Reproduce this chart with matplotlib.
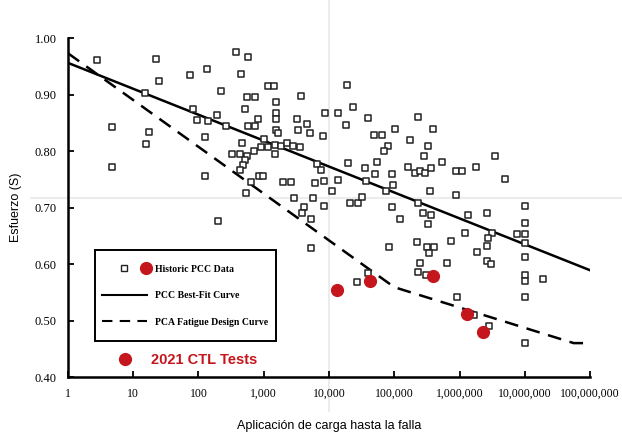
import numpy as np
import matplotlib
matplotlib.use("Agg")
import matplotlib.pyplot as plt
from matplotlib.lines import Line2D
from matplotlib.patches import Rectangle
from matplotlib.legend_handler import HandlerTuple

# historic PCC data, log10(load applications) and stress ratio
hist_log_n = [0.44, 1.35, 1.39, 1.87, 1.18, 1.92, 1.98, 0.67, 1.24, 1.20, 0.67, 2.10, 2.10, 2.30,
              2.57, 2.76, 2.13, 2.65, 3.07, 3.16, 3.57, 2.34, 2.74, 2.87, 3.19, 2.71, 3.19, 3.94,
              3.19, 2.91, 3.51, 2.28, 2.15, 2.42, 2.76, 2.87,
              3.19, 3.22, 3.52, 3.66, 3.71, 3.91, 2.67, 3.00, 3.07, 2.96, 2.85, 3.17, 3.17, 3.26,
              3.36, 3.45, 3.56,
              2.51, 2.64, 2.74, 2.71, 2.68, 2.64, 3.82, 3.88, 2.93, 2.99, 2.80, 3.30, 3.42, 3.79,
              3.92, 4.14, 2.73, 3.46, 3.75, 3.92, 3.62, 3.59, 3.72,
              4.28, 4.14, 4.37, 4.26, 4.60, 4.69, 4.81, 5.01, 5.36, 5.59, 5.24, 5.52, 4.90, 4.84,
              5.46, 5.73, 4.29, 4.74, 4.55, 4.70, 4.97, 5.21, 5.32, 5.39, 5.47, 5.56, 4.57, 4.98,
              4.87, 4.05, 5.55, 5.95, 4.32, 4.44, 4.51, 4.97, 5.36,
              5.95, 6.04, 6.25, 6.54, 6.70, 7.00,
              5.09, 5.44, 5.56, 5.52, 4.92, 5.35, 5.50, 5.61, 5.53, 5.87, 5.81, 5.39, 5.36, 5.49,
              4.60, 4.43, 5.96, 3.72,
              6.13, 6.42, 6.08, 6.50, 6.44, 6.88, 7.00, 7.00, 6.42, 6.27, 6.42, 6.48, 7.00, 7.00,
              7.00, 7.00, 7.28, 7.00, 6.22, 6.45, 7.00]
hist_s = [0.961, 0.963, 0.924, 0.935, 0.903, 0.874, 0.855, 0.842, 0.834, 0.812, 0.772, 0.825, 0.756, 0.676,
          0.975, 0.966, 0.945, 0.936, 0.915, 0.915, 0.897, 0.906, 0.896, 0.896, 0.887, 0.874, 0.867, 0.867,
          0.857, 0.857, 0.857, 0.864, 0.853, 0.844, 0.844, 0.844,
          0.837, 0.832, 0.837, 0.848, 0.832, 0.827, 0.814, 0.821, 0.807, 0.807, 0.800, 0.811, 0.795, 0.809,
          0.814, 0.809, 0.807,
          0.795, 0.795, 0.791, 0.784, 0.775, 0.766, 0.777, 0.766, 0.756, 0.756, 0.745, 0.745, 0.745, 0.743,
          0.747, 0.749, 0.726, 0.717, 0.717, 0.703, 0.701, 0.690, 0.680,
          0.917, 0.867, 0.878, 0.846, 0.858, 0.828, 0.828, 0.839, 0.860, 0.839, 0.819, 0.809, 0.809, 0.800,
          0.791, 0.781, 0.779, 0.781, 0.770, 0.759, 0.759, 0.772, 0.761, 0.765, 0.761, 0.770, 0.747, 0.740,
          0.729, 0.729, 0.729, 0.722, 0.708, 0.708, 0.719, 0.701, 0.708,
          0.765, 0.765, 0.772, 0.791, 0.750, 0.703,
          0.680, 0.690, 0.687, 0.671, 0.630, 0.639, 0.630, 0.630, 0.619, 0.641, 0.602, 0.602, 0.586, 0.581,
          0.584, 0.568, 0.542, 0.628,
          0.687, 0.690, 0.655, 0.655, 0.646, 0.653, 0.653, 0.637, 0.632, 0.621, 0.605, 0.600, 0.612, 0.673,
          0.581, 0.570, 0.573, 0.542, 0.510, 0.490, 0.460]

# 2021 CTL tests
ctl_log_n = [4.12, 4.63, 5.59, 6.11, 6.36]
ctl_s = [0.554, 0.570, 0.579, 0.511, 0.480]

# curves
fit_log_n = [0, 8]
fit_s = [0.956, 0.589]
pca_log_n = [0, 5.0, 7.75, 8.0]
pca_s = [0.973, 0.559, 0.460, 0.460]

xticks = [1, 10, 100, 1000, 10000, 100000, 1000000, 10000000, 100000000]
xticklabels = ["1", "10", "100", "1,000", "10,000", "100,000", "1,000,000", "10,000,000", "100,000,000"]
yticks = [0.40, 0.50, 0.60, 0.70, 0.80, 0.90, 1.00]

red = "#c4161c"
serif = "Liberation Serif"

fig = plt.figure(figsize=(6.22, 4.33), dpi=100)
ax = fig.add_axes([0.1093, 0.1293, 0.8393, 0.7829])

# faint scan lines
ax.axhline(0.716, xmin=-0.07, xmax=1.06, color="#ececec", lw=1.5, zorder=0, clip_on=False)
ax.axvline(1e4, ymin=-0.1, ymax=1.12, color="#ececec", lw=1.5, zorder=0, clip_on=False)

ax.plot(10 ** np.array(fit_log_n), fit_s, color="black", lw=1.8, zorder=2)
ax.plot(10 ** np.array(pca_log_n), pca_s, color="black", lw=1.8, dashes=(5.5, 3.5), zorder=2)

ax.scatter(10 ** np.array(hist_log_n), hist_s, marker="s", s=22, facecolor="white",
           edgecolor="#222222", linewidth=1.1, zorder=3, clip_on=False)
ax.scatter(10 ** np.array(ctl_log_n), ctl_s, marker="o", s=72, color=red, zorder=4)

ax.set_xscale("log")
ax.set_xlim(1, 1e8)
ax.set_ylim(0.40, 1.00)
ax.set_xticks(xticks)
ax.set_xticklabels(xticklabels)
ax.minorticks_off()
ax.set_yticks(yticks)
ax.set_yticklabels([f"{v:.2f}" for v in yticks])
for lab in ax.get_xticklabels():
    lab.set_fontfamily(serif)
    lab.set_fontsize(8.5)
for lab in ax.get_yticklabels():
    lab.set_fontfamily(serif)
    lab.set_fontsize(9)
ax.tick_params(direction="in", length=4, width=1.3, pad=8)

for side in ["top", "right"]:
    ax.spines[side].set_visible(False)
for side in ["left", "bottom"]:
    ax.spines[side].set_linewidth(1.8)

ax.set_xlabel("Aplicación de carga hasta la falla", fontfamily="Liberation Sans", fontsize=9, labelpad=14)
ax.set_ylabel("Esfuerzo (S)", fontfamily="Liberation Sans", fontsize=9, labelpad=9)

# legend box drawn as its own frame
ax.add_patch(Rectangle((0.052, 0.106), 0.346, 0.269, transform=ax.transAxes, facecolor="white",
                       edgecolor="black", lw=1.4, zorder=5))

h_blank = Line2D([], [], ls="none")
h_sq = Line2D([], [], marker="s", ls="none", ms=5, mfc="white", mec="#222222", mew=1.0)
h_dot = Line2D([], [], marker="o", ls="none", ms=8.5, color=red)
h_fit = Line2D([], [], color="black", lw=1.5)
h_pca = Line2D([], [], color="black", lw=1.5, dashes=(5, 3.5))
leg = ax.legend([(h_blank, h_sq, h_dot), h_fit, h_pca],
                ["Historic PCC Data", "PCC Best-Fit Curve", "PCA Fatigue Design Curve"],
                handler_map={tuple: HandlerTuple(ndivide=None, pad=2.16)},
                loc="center left", bbox_to_anchor=(0.065, 0.240), borderaxespad=0, borderpad=0,
                prop={"family": serif, "size": 7, "weight": "bold"},
                handlelength=4.6, handletextpad=0.9, labelspacing=1.8, frameon=False)
leg.set_zorder(6)

ctl = ax.legend([h_dot], ["2021 CTL Tests"], loc="center left", bbox_to_anchor=(0.096, 0.05),
                frameon=False, handlelength=1.0, handletextpad=1.26, borderaxespad=0, borderpad=0,
                prop={"family": "Liberation Sans", "size": 10.5, "weight": "bold"})
for t in ctl.get_texts():
    t.set_color(red)
ax.add_artist(leg)

fig.savefig("out.png", dpi=100)
